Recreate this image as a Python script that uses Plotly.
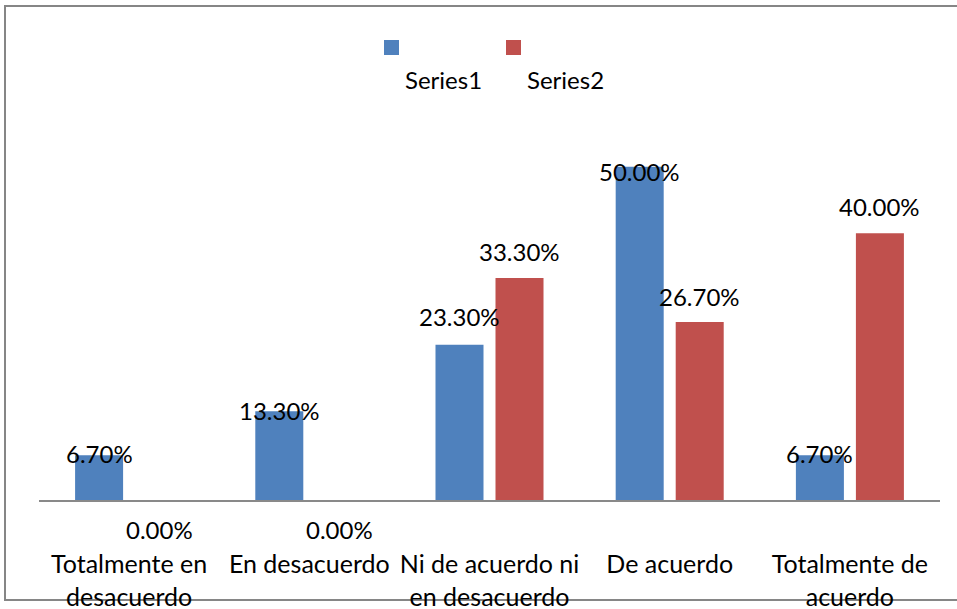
import plotly.graph_objects as go

# Survey responses (share of answers per category)
categories = [
    "Totalmente en desacuerdo",
    "En desacuerdo",
    "Ni de acuerdo ni en desacuerdo",
    "De acuerdo",
    "Totalmente de acuerdo",
]
tick_labels = [
    "Totalmente en<br>desacuerdo",
    "En desacuerdo",
    "Ni de acuerdo ni<br>en desacuerdo",
    "De acuerdo",
    "Totalmente de<br>acuerdo",
]
series_names = ["Series1", "Series2"]
series1 = [6.7, 13.3, 23.3, 50.0, 6.7]
series2 = [0.0, 0.0, 33.3, 26.7, 40.0]

# Styling
BLUE = "#4F81BD"
RED = "#C0504D"
FONT = "Lato, 'Open Sans', sans-serif"
FS = 24
FS_TICK = 25
W, H = 957, 609
ML, MR, MT, MB = 39, 17, 100, 109
BARGAP = 0.334
BARGROUPGAP = 0.2
Y_MAX = 60
# vertical nudges (px, positive = up) of the value labels relative to the bar tops
label_nudge_1 = [2, 1, 28, -5, 2]
label_nudge_2 = [-29, -29, 27, 26, 27]

plot_w = W - ML - MR
plot_h = H - MT - MB
cat_w = plot_w / len(categories)
bar_offset = (1 - BARGAP) * cat_w / 4  # centre of each bar relative to category centre

fig = go.Figure()
for name, vals, color in [(series_names[0], series1, BLUE), (series_names[1], series2, RED)]:
    fig.add_trace(go.Bar(
        name=name, x=categories, y=vals,
        marker=dict(color=color, line=dict(width=0)),
        showlegend=False, hoverinfo="x+y",
    ))

annotations = []
for vals, nudges, sign in [(series1, label_nudge_1, -1), (series2, label_nudge_2, 1)]:
    for cat, v, dy in zip(categories, vals, nudges):
        annotations.append(dict(
            x=cat, y=v, xref="x", yref="y",
            text=f"{v:.2f}%", showarrow=False,
            xshift=sign * bar_offset, yshift=dy,
            xanchor="center", yanchor="middle",
            font=dict(family=FONT, size=FS, color="black"),
        ))

# Legend: swatch above each series name
def px_x(px):
    return (px - ML) / plot_w

def px_y(py):
    return (H - MB - py) / plot_h

shapes = []
legend_items = [(series_names[0], BLUE, 384, 443), (series_names[1], RED, 506, 565)]
for name, color, sx, tx in legend_items:
    shapes.append(dict(
        type="rect", xref="paper", yref="paper",
        x0=px_x(sx), x1=px_x(sx + 15), y0=px_y(55), y1=px_y(40),
        fillcolor=color, line=dict(width=0),
    ))
    annotations.append(dict(
        x=px_x(tx), y=px_y(80), xref="paper", yref="paper",
        text=name, showarrow=False, xanchor="center", yanchor="middle",
        font=dict(family=FONT, size=FS, color="black"),
    ))

# Chart frame
shapes.append(dict(
    type="rect", xref="paper", yref="paper", layer="below",
    x0=px_x(5), x1=px_x(962), y0=px_y(600), y1=px_y(6),
    line=dict(color="#868686", width=2), fillcolor="rgba(0,0,0,0)",
))

fig.update_layout(
    width=W, height=H,
    margin=dict(l=ML, r=MR, t=MT, b=MB, pad=0, autoexpand=False),
    paper_bgcolor="white", plot_bgcolor="white",
    barmode="group", bargap=BARGAP, bargroupgap=BARGROUPGAP,
    font=dict(family=FONT, size=FS, color="black"),
    annotations=annotations, shapes=shapes,
    xaxis=dict(
        tickmode="array", tickvals=categories, ticktext=tick_labels,
        showline=True, linecolor="#898989", linewidth=2,
        ticks="", showgrid=False, zeroline=False,
        automargin=False,
        ticklabelstandoff=41,
        tickfont=dict(family=FONT, size=FS_TICK, color="black"),
    ),
    yaxis=dict(
        range=[0, Y_MAX], visible=False, showgrid=False, zeroline=False,
        automargin=False,
    ),
)

fig.write_html("out.html")
